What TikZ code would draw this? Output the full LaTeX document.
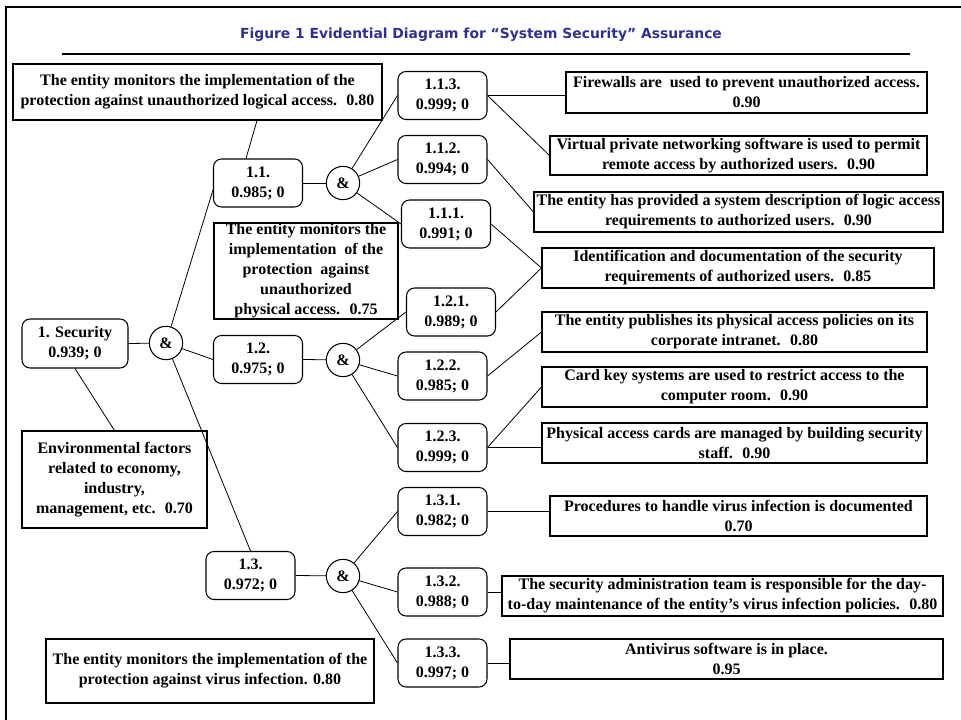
\documentclass[tikz,border=0pt]{standalone}
\usepackage{fontspec}
\setmainfont{Liberation Serif}
\newfontfamily\headfont{DejaVu Sans}
\usetikzlibrary{calc,shadows}
\definecolor{headblue}{RGB}{46,49,146}
\begin{document}
\begin{tikzpicture}[x=0.75pt,y=-0.75pt,
  every node/.style={font=\fontsize{12}{15}\selectfont\bfseries,align=center,inner sep=0pt},
  sz/.style 2 args={minimum width=#1*0.75pt,minimum height=#2*0.75pt},
  goal/.style={draw,line width=0.8pt,rounded corners=6pt,sz={89}{48}},
  factor/.style={draw,line width=0.8pt},
  evid/.style={draw,line width=0.8pt,fill=white,
    drop shadow={shadow xshift=0.8pt,shadow yshift=-0.8pt,fill=black!45,opacity=1}},
  andgate/.style={draw,line width=0.8pt,circle,minimum size=25pt},
  link/.style={line width=0.6pt}]
\useasboundingbox (0,0) rectangle (961,720);

% frame and heading
\draw[line width=2.2pt] (6,720) -- (6,7) -- (961,7);
\node[font=\headfont\fontsize{10.4}{12}\selectfont\bfseries,text=headblue] (title) at (481,35)
  {Figure 1 Evidential Diagram for “System Security” Assurance};
\coordinate (ruleL) at (62,54);
\coordinate (ruleR) at (910,54);
\draw[line width=0.9pt] (ruleL) -- (ruleR);

% root and its environmental factor
\node[goal,sz={106}{49}] (sec) at (75,343.5) {1. Security\\0.939; 0};
\node[factor,sz={185}{97}] (env) at (114.5,479.5)
  {Environmental factors\\related to economy,\\industry,\\management, etc.~ 0.70};
\node[andgate] (and0) at (166,343) {\&};

% second level goals
\node[goal] (n11) at (258,183) {1.1.\\0.985; 0};
\node[goal] (n12) at (258,359.5) {1.2.\\0.975; 0};
\node[goal] (n13) at (250.5,575.5) {1.3.\\0.972; 0};
\node[andgate] (and11) at (343,183) {\&};
\node[andgate] (and12) at (343,360) {\&};
\node[andgate] (and13) at (343,576) {\&};

% factors of the second level
\node[factor,sz={369}{56}] (nA) at (197.5,92)
  {The entity monitors the implementation of the\\protection against unauthorized logical access.~ 0.80};
\node[factor,sz={184}{96}] (nB) at (306,271)
  {The entity monitors the\\implementation~ of the\\protection~ against\\unauthorized\\physical access.~ 0.75};
\node[factor,sz={328}{64}] (nC) at (210,671)
  {The entity monitors the implementation of the\\protection against virus infection. 0.80};

% third level goals
\node[goal] (n113) at (442.5,95.5) {1.1.3.\\0.999; 0};
\node[goal] (n112) at (442.5,159.5) {1.1.2.\\0.994; 0};
\node[goal] (n111) at (446,224) {1.1.1.\\0.991; 0};
\node[goal] (n121) at (451,312) {1.2.1.\\0.989; 0};
\node[goal] (n122) at (442.5,376) {1.2.2.\\0.985; 0};
\node[goal] (n123) at (442.5,447.5) {1.2.3.\\0.999; 0};
\node[goal] (n131) at (442.5,511.5) {1.3.1.\\0.982; 0};
\node[goal] (n132) at (442.5,592) {1.3.2.\\0.988; 0};
\node[goal] (n133) at (442.5,663) {1.3.3.\\0.997; 0};

% evidence
\node[evid,sz={361}{41}] (rFire) at (746.5,92.5)
  {Firewalls are~ used to prevent unauthorized access.\\0.90};
\node[evid,sz={377}{39}] (rVpn) at (738.5,155.5)
  {Virtual private networking software is used to permit\\remote access by authorized users.~ 0.90};
\node[evid,sz={409}{40}] (rDesc) at (738.5,212)
  {The entity has provided a system description of logic access\\requirements to authorized users.~ 0.90};
\node[evid,sz={392}{40}] (rIdent) at (738,268)
  {Identification and documentation of the security\\requirements of authorized users.~ 0.85};
\node[evid,sz={385}{40}] (rPub) at (734.5,332)
  {The entity publishes its physical access policies on its\\corporate intranet.~ 0.80};
\node[evid,sz={385}{40}] (rCard) at (734.5,387)
  {Card key systems are used to restrict access to the\\computer room.~ 0.90};
\node[evid,sz={385}{40}] (rPhys) at (734.5,443)
  {Physical access cards are managed by building security\\staff.~ 0.90};
\node[evid,sz={377}{40}] (rProc) at (738.5,516)
  {Procedures to handle virus infection is documented\\0.70};
\node[evid,sz={441}{40}] (rAdmin) at (722.5,596)
  {The security administration team is responsible for the day-\\to-day maintenance of the entity’s virus infection policies.~ 0.80};
\node[evid,sz={433}{40}] (rAnti) at (726.5,659)
  {Antivirus software is in place.\\0.95};

% connectors: root level
\draw[link] (sec.east) -- (and0);
\draw[link] (sec.south) -- (env.north);
\draw[link] (and0) -- ($(n11.west)+(0,7)$);
\draw[link] (and0) -- (n12.west);
\draw[link] (and0) -- (n13.north);

% connectors: second level
\draw[link] ($(nA.south)+(59.5,0)$) -- ($(n11.north)+(-12,0)$);
\draw[link] ($(n12.north)+(4,0)$) -- ($(n12.north)+(4,0)$ |- nB.south);
\draw[link] ($(n13.south)+(-4.5,0)$) -- ($(n13.south)+(-4.5,0)$ |- nC.north);
\draw[link] (n11.east) -- (and11);
\draw[link] (n12.east) -- (and12);
\draw[link] (n13.east) -- (and13);
\foreach \g in {n113,n112,n111} \draw[link] (and11) -- (\g.west);
\foreach \g in {n121,n122,n123} \draw[link] (and12) -- (\g.west);
\foreach \g in {n131,n132,n133} \draw[link] (and13) -- (\g.west);

% connectors: evidence
\draw[link] (n113.east) -- (n113.east -| rFire.west);
\draw[link] (n113.east) -- (rVpn.west);
\draw[link] (n112.east) -- (rDesc.west);
\draw[link] (n111.east) -- (rIdent.west);
\draw[link] (n121.east) -- (rIdent.west);
\draw[link] (n122.east) -- (rPub.west);
\draw[link] (n123.east) -- (rCard.west);
\draw[link] (n123.east) -- (n123.east -| rPhys.west);
\draw[link] (n131.east) -- (n131.east -| rProc.west);
\draw[link] (n132.east) -- (n132.east -| rAdmin.west);
\draw[link] (n133.east) -- (n133.east -| rAnti.west);
\end{tikzpicture}
\end{document}
